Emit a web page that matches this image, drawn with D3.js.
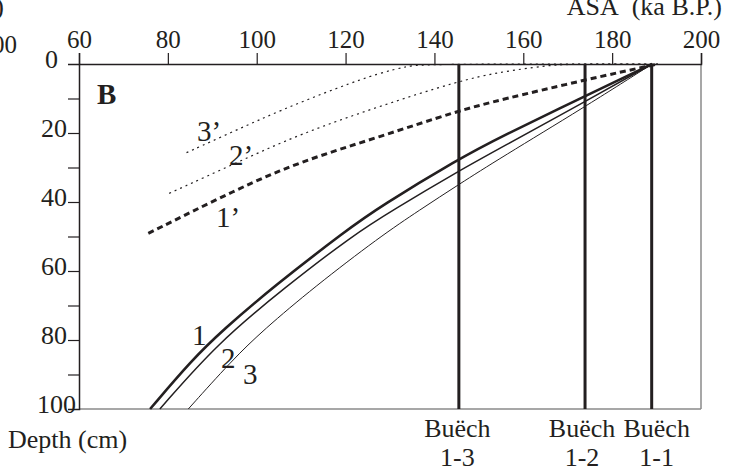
<!DOCTYPE html>
<html>
<head>
<meta charset="utf-8">
<script src="https://cdn.jsdelivr.net/npm/d3@7"></script>
<style>
  body { margin: 0; background: #fff; }
  svg text { font-family: "Liberation Serif", "Times New Roman", "DejaVu Serif", serif; fill: #231f20; }
</style>
</head>
<body>
<svg id="chart" width="729" height="471"></svg>
<script>
// ages (ka B.P.) vs depth (cm)
var curve1 = [[76,100],[85.4,85.8],[92.4,77.1],[103.7,64.6],[120.3,48.1],[127.7,41.4],[145.5,27.5],[154.8,21.2],[173.9,9.3],[189,0]];
var curve2 = [[78.2,100],[91.1,81],[106.5,64.6],[121.7,49.6],[130.7,42.3],[145.5,31],[154.8,24.4],[173.9,10.9],[189,0]];
var curve3 = [[84.6,100],[94.5,85.8],[101.5,77.1],[113,64.6],[127.7,50.1],[136.7,42.3],[145.5,34.9],[154.8,27.3],[173.9,12.4],[189,0]];
var curve1p = [[75.6,49.1],[95.5,36.3],[109.7,28.3],[127.7,21.1],[145.5,13.5],[154.8,10.4],[173.9,4.6],[190.3,0]];
var curve2p = [[80.3,37.5],[96,28.3],[109.7,20.3],[127.7,12.2],[145.5,4.9],[154.8,2.3],[165,0.5],[170,0],[190.3,0]];
var curve3p = [[84.2,25.7],[95,19.4],[105.2,13.5],[118.7,6.6],[127.7,2.6],[134,0.6],[138,0],[190.3,0]];

var sections = ["Buëch 1-3", "Buëch 1-2", "Buëch 1-1"];
var sectionAges = [145.5, 173.9, 188.9];

var xTicks = [60, 80, 100, 120, 140, 160, 180, 200];
var yTicks = [0, 20, 40, 60, 80, 100];
var yMinor = [10, 20, 30, 40, 50, 60, 70, 80, 90];

var FONT = "'Liberation Serif', 'Times New Roman', 'DejaVu Serif', serif";

var svg = d3.select("#chart");
var x = d3.scaleLinear().domain([60, 200]).range([79, 701]);
var y = d3.scaleLinear().domain([0, 100]).range([64, 409]);

svg.append("rect").attr("width", 729).attr("height", 471).attr("fill", "#fff");

function label(px, py, size, txt) {
  return svg.append("text").attr("x", px).attr("y", py)
    .attr("font-size", size).attr("font-family", FONT).attr("fill", "#231f20").text(txt);
}

// bits of the neighbouring panel cut off at the left edge
label(4, 15, 26, "(ka B.P.)").attr("text-anchor", "end");
label(17, 53, 25, "200").attr("text-anchor", "end");

// frame: right and bottom grey
svg.append("line").attr("x1", x(200)).attr("x2", x(200)).attr("y1", y(0)).attr("y2", y(100))
  .attr("stroke", "#8a8a8a").attr("stroke-width", 1.5);
svg.append("line").attr("x1", x(60)).attr("x2", x(200)).attr("y1", y(100)).attr("y2", y(100))
  .attr("stroke", "#8a8a8a").attr("stroke-width", 1.5);

// top axis
var gx = svg.append("g").attr("transform", "translate(0," + y(0) + ")")
  .call(d3.axisTop(x).tickValues(xTicks).tickSize(11).tickPadding(5).tickFormat(d3.format("d")));
gx.attr("font-family", FONT).attr("font-size", 25);
gx.select(".domain").attr("stroke", "#231f20").attr("stroke-width", 1.5);
gx.selectAll(".tick line").attr("stroke", "#231f20").attr("stroke-width", 1.2);
gx.selectAll(".tick text").attr("fill", "#231f20");

// left axis
var gy = svg.append("g").attr("transform", "translate(" + x(60) + ",0)")
  .call(d3.axisLeft(y).tickValues(yMinor).tickSize(11).tickFormat(""));
gy.select(".domain").attr("stroke", "#231f20").attr("stroke-width", 1.5);
gy.selectAll(".tick line").attr("stroke", "#231f20").attr("stroke-width", 1.2);

yTicks.forEach(function(d) {
  label(d == 0 ? 58 : (d == 100 ? 76 : 67), y(d) + 4, 26, d).attr("text-anchor", "end");
});

// section lines
svg.selectAll(".sec").data(sectionAges).enter().append("line")
  .attr("class", "sec")
  .attr("x1", function(d) { return x(d); }).attr("x2", function(d) { return x(d); })
  .attr("y1", y(0)).attr("y2", y(100))
  .attr("stroke", "#231f20").attr("stroke-width", 3);

var secDx = [-1.5, -3, 5];
sections.forEach(function(s, i) {
  var parts = s.split(" ");
  label(x(sectionAges[i]) + secDx[i], 437, 26, parts[0]).attr("text-anchor", "middle");
  label(x(sectionAges[i]) + secDx[i], 466, 26, parts[1]).attr("text-anchor", "middle");
});

// curves
var line = d3.line().curve(d3.curveBasis)
  .x(function(d) { return x(d[0]); })
  .y(function(d) { return y(d[1]); });

var series = [
  { data: curve1, w: 2.6, dash: null },
  { data: curve2, w: 1.5, dash: null },
  { data: curve3, w: 1.0, dash: null },
  { data: curve1p, w: 3, dash: "6,4" },
  { data: curve2p, w: 1.2, dash: "2,4" },
  { data: curve3p, w: 1.2, dash: "2,4" }
];
series.forEach(function(s) {
  svg.append("path").datum(s.data)
    .attr("d", line)
    .attr("fill", "none")
    .attr("stroke", "#231f20")
    .attr("stroke-width", s.w)
    .attr("stroke-dasharray", s.dash);
});

// curve labels
var curveLabels = [
  ["1", 192, 345], ["2", 221, 368], ["3", 243, 384],
  ["1\u2019", 216, 227], ["2\u2019", 229, 165], ["3\u2019", 197, 141]
];
curveLabels.forEach(function(l) { label(l[1], l[2], 29, l[0]); });

label(97, 104, 29, "B").attr("font-weight", "bold");

label(722, 15, 26, "ASA\u00a0 (ka B.P.)").attr("text-anchor", "end");

label(8, 448, 26, "Depth (cm)");
</script>
</body>
</html>
